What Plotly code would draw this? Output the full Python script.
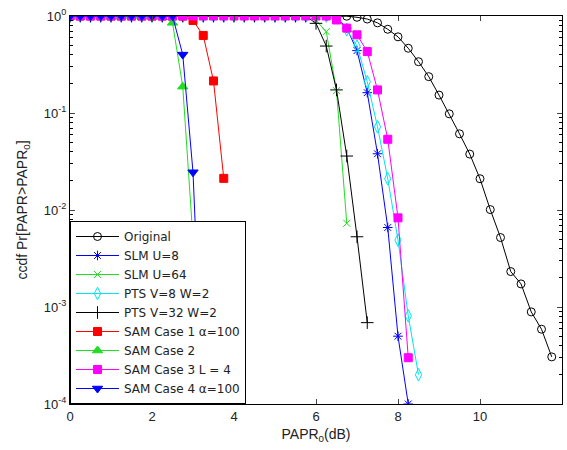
import plotly.graph_objects as go

# Shared PAPR0 grid (dB)
PAPR0 = [0.0, 0.25, 0.5, 0.75, 1.0, 1.25, 1.5, 1.75, 2.0, 2.25, 2.5, 2.75,
         3.0, 3.25, 3.5, 3.75, 4.0, 4.25, 4.5, 4.75, 5.0, 5.25, 5.5, 5.75,
         6.0, 6.25, 6.5, 6.75, 7.0, 7.25, 7.5, 7.75, 8.0, 8.25, 8.5, 8.75,
         9.0, 9.25, 9.5, 9.75, 10.0, 10.25, 10.5, 10.75, 11.0, 11.25, 11.5, 11.75]

original = [1, 1, 1, 1, 1, 1, 1, 1, 1, 1, 1, 1, 1, 1, 1, 1, 1, 1, 1, 1, 1, 1, 1, 1,
            1, 1, 1.0, 0.995, 0.97, 0.93, 0.85, 0.73, 0.61, 0.465, 0.338, 0.237,
            0.153, 0.098, 0.061, 0.0377, 0.021, 0.0101, 0.0052, 0.00232, 0.00173,
            0.00089, 0.00059, 0.000306]
slm_u8 = [1, 1, 1, 1, 1, 1, 1, 1, 1, 1, 1, 1, 1, 1, 1, 1, 1, 1, 1, 1, 1, 1, 1, 1,
          1, 1, 0.98, 0.75, 0.44, 0.162, 0.038, 0.0066, 0.0005, 0.0001]
slm_u64 = [1, 1, 1, 1, 1, 1, 1, 1, 1, 1, 1, 1, 1, 1, 1, 1, 1, 1, 1, 1, 1, 1, 1, 1,
           0.9, 0.69, 0.17, 0.0073]
pts_v8 = [1, 1, 1, 1, 1, 1, 1, 1, 1, 1, 1, 1, 1, 1, 1, 1, 1, 1, 1, 1, 1, 1, 1, 1,
          1, 1, 0.98, 0.72, 0.49, 0.21, 0.072, 0.021, 0.0049, 0.00081, 0.0002]
pts_v32 = [1, 1, 1, 1, 1, 1, 1, 1, 1, 1, 1, 1, 1, 1, 1, 1, 1, 1, 1, 1, 1, 1, 1, 1,
           0.84, 0.49, 0.173, 0.036, 0.0053, 0.00069]
sam_case1 = [1, 1, 1, 1, 1, 1, 1, 1, 1, 1, 1, 1, 0.9, 0.63, 0.214, 0.0212]
sam_case2 = [1, 1, 1, 1, 1, 1, 1, 1, 1, 1, 0.85, 0.187, 0.005]
sam_case3 = [1, 1, 1, 1, 1, 1, 1, 1, 1, 1, 1, 1, 1, 1, 1, 1, 1, 1, 1, 1, 1, 1, 1, 1,
             1, 1, 0.91, 0.75, 0.64, 0.43, 0.173, 0.0536, 0.0083, 0.0003]
sam_case4 = [1, 1, 1, 1, 1, 1, 1, 1, 1, 1, 1, 0.40, 0.0245, 0.00008]

x_ticks = [0, 2, 4, 6, 8, 10, 12]
y_ticks = [1e-4, 1e-3, 1e-2, 1e-1, 1]
y_tick_labels = ["10<sup>-4</sup>", "10<sup>-3</sup>", "10<sup>-2</sup>",
                 "10<sup>-1</sup>", "10<sup>0</sup>"]
y_minor = [m * 10 ** e for e in (-4, -3, -2, -1) for m in range(2, 10)]

series = [
    ("Original", original, "#000000", "circle-open", 8, 1),
    ("SLM U=8", slm_u8, "#0000ff", "asterisk-open", 8, 1),
    ("SLM U=64", slm_u64, "#22dd22", "x-thin-open", 7, 1),
    ("PTS V=8 W=2", pts_v8, "#00e5ee", "diamond-tall-open", 9, 1),
    ("PTS V=32 W=2", pts_v32, "#000000", "cross-thin-open", 9, 1),
    ("SAM Case 1 α=100", sam_case1, "#ff0000", "square", 8, 1),
    ("SAM Case 2", sam_case2, "#22dd22", "triangle-up", 9, 1),
    ("SAM Case 3 L = 4", sam_case3, "#ff00ff", "square", 8, 1),
    ("SAM Case 4 α=100", sam_case4, "#0000ff", "triangle-down", 9, 1),
]

fig = go.Figure()
for name, ys, color, sym, size, lw in series:
    fig.add_trace(go.Scatter(
        x=PAPR0[:len(ys)], y=ys, name=name, mode="lines+markers",
        line=dict(color=color, width=lw),
        marker=dict(symbol=sym, size=size, color=color,
                    line=dict(color=color, width=1)),
    ))

axis_font = dict(family="Liberation Sans, Arial, sans-serif", size=13, color="#222")
fig.update_layout(
    template="none",
    width=567, height=450,
    margin=dict(l=70, r=5, t=16, b=46, autoexpand=False),
    paper_bgcolor="white", plot_bgcolor="white",
    font=axis_font,
    showlegend=True,
    legend=dict(x=0, y=0, xanchor="left", yanchor="bottom",
                bgcolor="white", bordercolor="black", borderwidth=1,
                font=dict(family="DejaVu Sans, sans-serif", size=12, color="#222"),
                itemwidth=43, tracegroupgap=0),
)
fig.update_xaxes(
    range=[0, 12], tickvals=x_ticks, ticks="inside", ticklen=5,
    showline=True, linecolor="black", linewidth=1, mirror="allticks",
    showgrid=False, zeroline=False, automargin=False,
    title=dict(text="PAPR<sub>0</sub>(dB)", font=dict(size=14), standoff=6),
    tickfont=axis_font,
)
fig.update_yaxes(
    type="log", range=[-4, 0], tickvals=y_ticks, ticktext=y_tick_labels,
    ticks="inside", ticklen=5,
    minor=dict(tickvals=y_minor, ticks="inside", ticklen=3, tickcolor="black", showgrid=False),
    showline=True, linecolor="black", linewidth=1, mirror="allticks",
    showgrid=False, zeroline=False, automargin=False,
    title=dict(text="ccdf Pr[PAPR>PAPR<sub>0</sub>]", font=dict(size=14), standoff=12),
    tickfont=axis_font,
)

fig.write_html("out.html")
